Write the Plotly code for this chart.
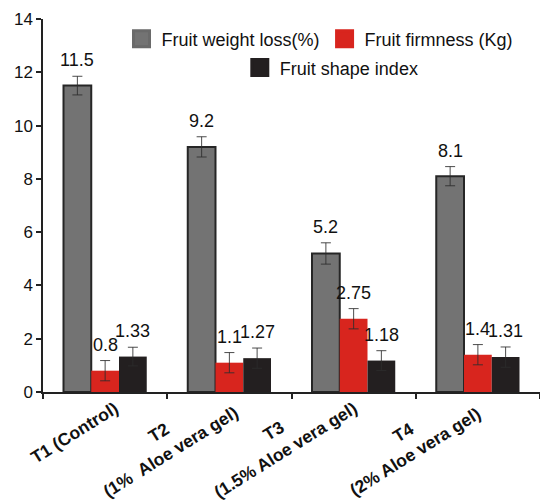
import plotly.graph_objects as go

categories = ["T1 (Control)", "T2<br>(1%  Aloe vera gel)", "T3<br>(1.5% Aloe vera gel)", "T4<br>(2% Aloe vera gel)"]
series_names = ["Fruit weight loss(%)", "Fruit firmness (Kg)", "Fruit shape index"]
weight_loss = [11.5, 9.2, 5.2, 8.1]
firmness = [0.8, 1.1, 2.75, 1.4]
shape_index = [1.33, 1.27, 1.18, 1.31]
weight_err = [0.35, 0.38, 0.4, 0.36]
firm_err = [0.38, 0.38, 0.38, 0.38]
shape_err = [0.35, 0.38, 0.37, 0.38]
weight_lbl = ["11.5", "9.2", "5.2", "8.1"]
firm_lbl = ["0.8", "1.1", "2.75", "1.4"]
shape_lbl = ["1.33", "1.27", "1.18", "1.31"]
y_ticks = [0, 2, 4, 6, 8, 10, 12, 14]

FONT = "Liberation Sans, Arial, sans-serif"
colors = ["#737373", "#d8251e", "#231f20"]
outline = [("#262626", 2), ("#d8251e", 0), ("#231f20", 0)]

values = [weight_loss, firmness, shape_index]
errs = [weight_err, firm_err, shape_err]
labels = [weight_lbl, firm_lbl, shape_lbl]

fig = go.Figure()
for k in range(3):
    fig.add_trace(go.Bar(
        x=categories, y=values[k], name=series_names[k], showlegend=False,
        legendgroup=series_names[k],
        marker=dict(color=colors[k], line=dict(color=outline[k][0], width=outline[k][1])),
        error_y=dict(type="data", array=errs[k], color="rgba(45,45,45,0.85)", thickness=1, width=5),
    ))

# legend swatches
for k in range(3):
    fig.add_trace(go.Scatter(
        x=[None], y=[None], mode="markers", name=series_names[k],
        legendgroup=series_names[k],
        legend="legend" if k < 2 else "legend2",
        marker=dict(symbol="square", size=16, color=colors[k],
                    line=dict(color=colors[k] if k else "#6a6a6a", width=3)),
    ))

# value labels
offsets = [-0.223, 0.0, 0.223]
for k in range(3):
    for i in range(len(categories)):
        fig.add_annotation(
            x=i + offsets[k], y=values[k][i] + errs[k][i], xref="x", yref="y",
            text=labels[k][i], showarrow=False, yanchor="bottom", xanchor="center",
            yshift=4, font=dict(family=FONT, size=18, color="#111"),
        )

# x category labels (rotated)
lbl_shift = [(-31, -41), (-65, -50), (-74, -48), (-69, -50)]
for i, c in enumerate(categories):
    fig.add_annotation(
        x=i, y=0, xref="x", yref="y", text="<b>" + c + "</b>", showarrow=False,
        textangle=-32, xanchor="center", yanchor="middle", align="center",
        xshift=lbl_shift[i][0], yshift=lbl_shift[i][1],
        font=dict(family=FONT, size=17.5, color="#111"),
    )

fig.update_layout(
    width=540, height=504,
    margin=dict(l=43, r=0, t=19, b=112),
    paper_bgcolor="white", plot_bgcolor="white",
    barmode="group", bargap=0.33, bargroupgap=0,
    font=dict(family=FONT, size=17, color="#111"),
    legend=dict(orientation="h", x=0.158, xanchor="left", y=0.946, yanchor="middle",
                font=dict(family=FONT, size=18, color="#111"), bgcolor="rgba(0,0,0,0)"),
    legend2=dict(orientation="h", x=0.396, xanchor="left", y=0.869, yanchor="middle",
                 font=dict(family=FONT, size=18, color="#111"), bgcolor="rgba(0,0,0,0)"),
)
fig.update_xaxes(
    type="category", range=[-0.5, 3.5], showticklabels=False,
    showline=True, linecolor="#222", linewidth=1.5,
    ticks="outside", tickson="boundaries", ticklen=5, tickcolor="#222", tickwidth=1.5,
    showgrid=False, zeroline=False,
)
fig.update_yaxes(
    range=[0, 14], tickvals=y_ticks, showline=True, linecolor="#222", linewidth=1.5,
    ticks="outside", ticklen=5, tickcolor="#222", tickwidth=1.5,
    showgrid=False, zeroline=False, tickfont=dict(family=FONT, size=17, color="#111"),
)

fig.write_html("out.html")
